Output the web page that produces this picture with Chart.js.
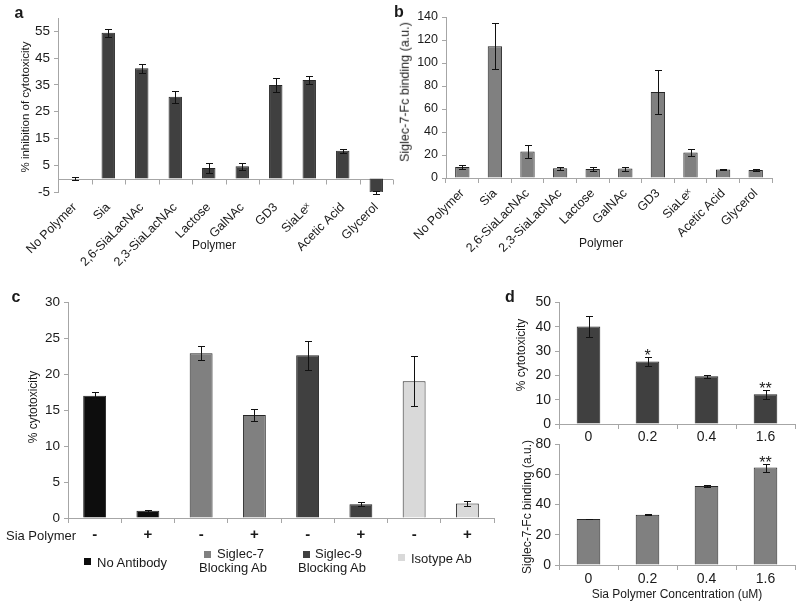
<!DOCTYPE html>
<html>
<head>
<meta charset="utf-8">
<script src="https://cdn.jsdelivr.net/npm/chart.js@4.4.1/dist/chart.umd.min.js"></script>
<style>
    body { margin: 0; background: #fff; font-family: "Liberation Sans", Arial, sans-serif; color: #1a1a1a; }
    #page { position: relative; width: 800px; height: 607px; overflow: hidden; }
    canvas { position: absolute; }
    .c, .v, .l { position: absolute; white-space: nowrap; line-height: 1; }
    .c { transform: translate(-50%, -50%); }
    .v { transform: translate(-50%, -50%) rotate(-90deg); }
    .l { transform: translateY(-50%); }
    .tag { font-weight: bold; font-size: 16px; }
    .sw { position: absolute; width: 7px; height: 7px; }
</style>
</head>
<body>
<div id="page">
    <canvas id="chartA" width="400" height="290" style="left:0;top:0"></canvas>
    <canvas id="chartB" width="400" height="290" style="left:400px;top:0"></canvas>
    <canvas id="chartC" width="500" height="260" style="left:0;top:290px"></canvas>
    <canvas id="chartD1" width="300" height="160" style="left:500px;top:290px"></canvas>
    <canvas id="chartD2" width="300" height="177" style="left:500px;top:430px"></canvas>

    <div class="c tag" style="left:19px;top:13px">a</div>
    <div class="c tag" style="left:399px;top:12px">b</div>
    <div class="c tag" style="left:16px;top:297px">c</div>
    <div class="c tag" style="left:510px;top:297px">d</div>

    <div class="v" style="left:26px;top:107px;font-size:11.5px">% inhibition of cytotoxicity</div>
    <div class="c" style="left:214px;top:245px;font-size:12px">Polymer</div>
    <div class="v" style="left:405px;top:92px;font-size:12.5px">Siglec-7-Fc binding (a.u.)</div>
    <div class="c" style="left:601px;top:243px;font-size:12px">Polymer</div>

    <div class="v" style="left:33px;top:407px;font-size:12px">% cytotoxicity</div>
    <div class="c" style="left:41px;top:535px;font-size:13px">Sia Polymer</div>
    <div class="sw" style="left:84px;top:558px;background:#0d0d0d"></div>
    <div class="l" style="left:97px;top:562px;font-size:13px">No Antibody</div>
    <div class="sw" style="left:204px;top:551px;background:#808080"></div>
    <div class="l" style="left:217px;top:553px;font-size:13px">Siglec-7</div>
    <div class="l" style="left:199px;top:567px;font-size:13px">Blocking Ab</div>
    <div class="sw" style="left:303px;top:551px;background:#404040"></div>
    <div class="l" style="left:315px;top:553px;font-size:13px">Siglec-9</div>
    <div class="l" style="left:298px;top:567px;font-size:13px">Blocking Ab</div>
    <div class="sw" style="left:398px;top:554px;background:#d9d9d9"></div>
    <div class="l" style="left:411px;top:558px;font-size:13px">Isotype Ab</div>

    <div class="v" style="left:521px;top:355px;font-size:12px">% cytotoxicity</div>
    <div class="v" style="left:527px;top:507px;font-size:12px">Siglec-7-Fc binding (a.u.)</div>
    <div class="c" style="left:677px;top:594px;font-size:12px">Sia Polymer Concentration (uM)</div>
</div>
<script>
// data
const polymers = ['No Polymer', 'Sia', '2,6-SiaLacNAc', '2,3-SiaLacNAc', 'Lactose', 'GalNAc', 'GD3', 'SiaLeˣ', 'Acetic Acid', 'Glycerol'];
const inhibition = [0, 54.5, 41.2, 30.6, 4.0, 4.6, 35.0, 36.8, 10.4, -5.2];
const inhibitionErr = [0.7, 1.5, 1.8, 2.2, 2.0, 1.2, 2.6, 1.4, 0.8, 0.5];
const inhibitionTicks = [-5, 5, 15, 25, 35, 45, 55];

const binding = [9.5, 114.5, 23.0, 8.5, 7.8, 8.2, 74.8, 22.2, 7.5, 7.0];
const bindingErr = [2.0, 20.0, 5.6, 1.2, 1.5, 1.7, 19.0, 3.2, 0.5, 1.0];

const siaPolymer = ['-', '+', '-', '+', '-', '+', '-', '+'];
const antibodies = ['No Antibody', 'Siglec-7 Blocking Ab', 'Siglec-9 Blocking Ab', 'Isotype Ab'];
const antibodyColors = ['#0d0d0d', '#808080', '#404040', '#d9d9d9'];
const cytoByAntibody = [17.0, 1.0, 22.9, 14.3, 22.6, 1.9, 19.0, 2.0];
const cytoByAntibodyErr = [0.5, 0.15, 1.0, 0.8, 2.0, 0.3, 3.5, 0.35];

const concentrations = ['0', '0.2', '0.4', '1.6'];
const cytoByConc = [40.1, 25.7, 19.6, 12.2];
const cytoByConcErr = [4.5, 2.0, 0.5, 1.8];
const cytoByConcStars = ['', '*', '', '**'];
const bindingByConc = [30.4, 33.3, 52.2, 64.4];
const bindingByConcErr = [0.3, 0.3, 0.4, 2.7];
const bindingByConcStars = ['', '', '', '**'];

const AXIS = '#a6a6a6';
const INK = '#1a1a1a';
const FONT = '"Liberation Sans", Arial, sans-serif';
Chart.defaults.font.family = FONT;
Chart.defaults.color = INK;

// error bars + significance stars drawn from the data arrays
const errorBars = {
    id: 'errorBars',
    afterDatasetsDraw(chart, args, opts) {
        if (!opts.errors) return;
        const { ctx } = chart;
        const ys = chart.scales.y;
        const vals = chart.data.datasets[0].data;
        ctx.save();
        ctx.strokeStyle = '#111';
        ctx.lineWidth = 1;
        chart.getDatasetMeta(0).data.forEach((bar, i) => {
            const x = Math.round(bar.x) + 0.5;
            const hi = Math.round(ys.getPixelForValue(vals[i] + opts.errors[i])) + 0.5;
            const lo = Math.round(ys.getPixelForValue(vals[i] - opts.errors[i])) + 0.5;
            ctx.beginPath();
            ctx.moveTo(x, hi); ctx.lineTo(x, lo);
            ctx.moveTo(x - 3.5, hi); ctx.lineTo(x + 3.5, hi);
            ctx.moveTo(x - 3.5, lo); ctx.lineTo(x + 3.5, lo);
            ctx.stroke();
            if (opts.stars && opts.stars[i]) {
                ctx.fillStyle = INK;
                ctx.font = '16px ' + FONT;
                ctx.textAlign = 'center';
                ctx.textBaseline = 'alphabetic';
                ctx.fillText(opts.stars[i], bar.x, hi + 3);
            }
        });
        ctx.restore();
    }
};

// category axis crossing at y = 0 (panel a has negative values)
const zeroAxis = {
    id: 'zeroAxis',
    beforeDatasetsDraw(chart, args, opts) {
        if (!opts.show) return;
        const { ctx, chartArea: a, scales: { y } } = chart;
        const y0 = Math.round(y.getPixelForValue(0)) + 0.5;
        const n = chart.data.labels.length;
        ctx.save();
        ctx.strokeStyle = AXIS;
        ctx.lineWidth = 1;
        ctx.beginPath();
        ctx.moveTo(a.left, y0); ctx.lineTo(a.right, y0);
        for (let i = 1; i <= n; i++) {
            const gx = Math.round(a.left + i * (a.right - a.left) / n) + 0.5;
            ctx.moveTo(gx, y0); ctx.lineTo(gx, y0 + 5);
        }
        ctx.stroke();
        ctx.restore();
    }
};

function barChart(id, labels, values, colors, o) {
    const el = document.getElementById(id);
    const box = { left: el.offsetLeft, top: el.offsetTop, w: el.width, h: el.height };
    const pad = {
        left: 0,
        top: o.area.t - box.top,
        right: box.left + box.w - o.area.r,
        bottom: box.top + box.h - o.area.b - o.xH
    };
    const yW = o.area.l - box.left;
    return new Chart(el, {
        type: 'bar',
        data: {
            labels,
            datasets: [{
                data: values,
                backgroundColor: colors,
                borderColor: '#262626',
                borderWidth: 1,
                barPercentage: o.barPct,
                categoryPercentage: 1
            }]
        },
        options: {
            responsive: false,
            animation: false,
            devicePixelRatio: 1,
            layout: { padding: pad },
            plugins: {
                legend: { display: false },
                tooltip: { enabled: false },
                errorBars: { errors: o.errors, stars: o.stars },
                zeroAxis: { show: !!o.zeroAxis }
            },
            scales: {
                x: {
                    ticks: {
                        color: INK, font: o.xFont, autoSkip: false,
                        maxRotation: o.rot || 0, minRotation: o.rot || 0, padding: o.xPad ?? 3
                    },
                    grid: { display: !o.zeroAxis, drawOnChartArea: false, tickLength: 5, color: AXIS, offset: true },
                    border: { display: !o.zeroAxis, color: AXIS },
                    afterFit: s => { s.height = o.xH; }
                },
                y: {
                    min: o.yMin, max: o.yMax,
                    ticks: { stepSize: o.yStep, color: INK, font: o.yFont, padding: 4 },
                    afterBuildTicks: o.yTicks ? (s => { s.ticks = o.yTicks.map(v => ({ value: v })); }) : undefined,
                    grid: { drawOnChartArea: false, tickLength: 4, color: AXIS },
                    border: { color: AXIS },
                    afterFit: s => { s.width = yW; }
                }
            }
        },
        plugins: [zeroAxis, errorBars]
    });
}

barChart('chartA', polymers, inhibition, '#404040', {
    area: { l: 58, t: 18, r: 393, b: 192 }, xH: 96,
    yMin: -5, yMax: 60, yTicks: inhibitionTicks, yFont: { size: 13.5 },
    xFont: { size: 12.5 }, rot: 45, barPct: 0.4, zeroAxis: true,
    errors: inhibitionErr
});

barChart('chartB', polymers, binding, '#808080', {
    area: { l: 446, t: 17, r: 772, b: 178 }, xH: 110,
    yMin: 0, yMax: 140, yStep: 20, yFont: { size: 12.5 },
    xFont: { size: 12.5 }, rot: 45, barPct: 0.44,
    errors: bindingErr
});

barChart('chartC', siaPolymer, cytoByAntibody,
    siaPolymer.map((_, i) => antibodyColors[Math.floor(i / 2)]), {
    area: { l: 68, t: 297, r: 494, b: 518 }, xH: 30,
    yMin: 0, yMax: 30, yStep: 5, yFont: { size: 13.5 },
    xFont: { size: 15, weight: 'bold' }, barPct: 0.43,
    errors: cytoByAntibodyErr
});

barChart('chartD1', concentrations, cytoByConc, '#404040', {
    area: { l: 559, t: 301, r: 795, b: 424 }, xH: 26, xPad: 0,
    yMin: 0, yMax: 50, yStep: 10, yFont: { size: 14 },
    xFont: { size: 14 }, barPct: 0.4,
    errors: cytoByConcErr, stars: cytoByConcStars
});

barChart('chartD2', concentrations, bindingByConc, '#808080', {
    area: { l: 559, t: 444, r: 795, b: 565 }, xH: 30, xPad: 1,
    yMin: 0, yMax: 80, yStep: 10, yFont: { size: 14 },
    xFont: { size: 14 }, barPct: 0.4,
    errors: bindingByConcErr, stars: bindingByConcStars
});
</script>
</body>
</html>
